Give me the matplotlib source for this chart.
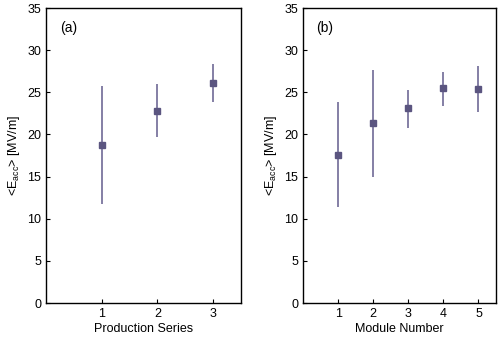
import matplotlib
matplotlib.use('Agg')
import matplotlib.pyplot as plt

plt.rcParams['font.family'] = ['Liberation Sans', 'DejaVu Sans']
plt.rcParams['mathtext.fontset'] = 'custom'
plt.rcParams['mathtext.rm'] = 'Liberation Sans'

# (a) production series
series = [1, 2, 3]
series_mean = [18.7, 22.8, 26.1]
series_hi = [25.8, 26.0, 28.4]
series_lo = [11.7, 19.7, 23.9]

# (b) module number
modules = [1, 2, 3, 4, 5]
module_mean = [17.6, 21.3, 23.1, 25.5, 25.4]
module_hi = [23.8, 27.6, 25.3, 27.4, 28.1]
module_lo = [11.4, 14.9, 20.8, 23.4, 22.7]

bar_color = '#706a96'
mark_color = '#5b5580'


def panel(ax, x, mean, hi, lo, xlabel, tag, xmax):
    ax.vlines(x, lo, hi, color=bar_color, lw=1.2, zorder=2)
    ax.plot(x, mean, 's', color=mark_color, ms=4.5, zorder=3)
    ax.set_xlim(0, xmax)
    ax.set_ylim(0, 35)
    ax.set_xticks(x)
    ax.set_yticks(range(0, 36, 5))
    ax.tick_params(direction='in', length=3, labelsize=9, width=0.8)
    ax.set_xlabel(xlabel, fontsize=9, labelpad=2)
    ax.set_ylabel(r'<E$_\mathregular{acc}$> [MV/m]', fontsize=9, labelpad=4)
    ax.text(0.07, 0.955, tag, transform=ax.transAxes, fontsize=10, va='top')
    for s in ax.spines.values():
        s.set_linewidth(1.0)


fig = plt.figure(figsize=(4.98, 3.41), dpi=100)
ax1 = fig.add_axes([0.0924, 0.1114, 0.3916, 0.8651])
ax2 = fig.add_axes([0.6084, 0.1114, 0.3876, 0.8651])

panel(ax1, series, series_mean, series_hi, series_lo, 'Production Series', '(a)', 3.5)
panel(ax2, modules, module_mean, module_hi, module_lo, 'Module Number', '(b)', 5.5)

fig.savefig('out.png', dpi=100)
